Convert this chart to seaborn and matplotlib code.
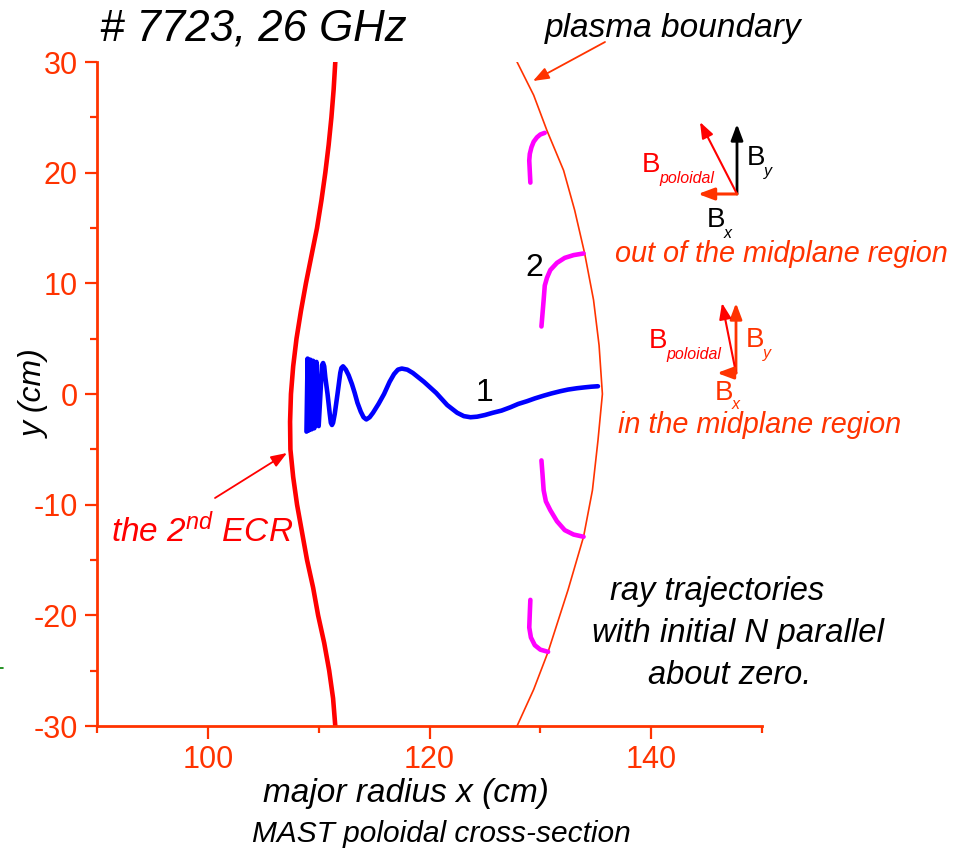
import numpy as np
import pandas as pd
import matplotlib
matplotlib.use("Agg")
import matplotlib.pyplot as plt
from matplotlib.ticker import MultipleLocator
import seaborn as sns

# ---- data ----
ecr_x = [111.5, 111.35, 111.15, 110.9, 110.6, 110.25, 109.85, 109.35, 108.85, 108.4, 108.0,
         107.7, 107.5, 107.42, 107.45, 107.7, 108.05, 108.5, 108.95, 109.5, 109.95,
         110.5, 110.95, 111.3, 111.5]
ecr_y = [30, 27.5, 25, 22.5, 20, 17.5, 15, 12.5, 10, 7.5, 5,
         2.5, 0, -2.5, -5, -7.5, -10, -12.5, -15, -17.5, -20,
         -22.5, -25, -27.5, -30]

boundary_x = [127.9, 129.4, 130.6, 132.1, 133.1, 134.0, 134.8, 135.3, 135.6,
              135.2, 134.7, 133.9, 132.5, 130.7, 129.4, 127.9]
boundary_y = [30.0, 27.0, 23.8, 20.2, 16.6, 12.7, 8.5, 4.4, 0.0,
              -4.2, -8.7, -12.9, -17.7, -23.3, -26.7, -30.0]

ray1_x = [108.9, 109.0, 109.1, 109.25, 109.35, 109.5, 109.6, 109.8, 110.0, 110.3, 110.4,
          110.5, 110.6, 110.8, 111.0, 111.1, 111.2, 111.3, 111.45, 111.7, 111.95, 112.05,
          112.2, 112.45, 112.7, 113.0, 113.25, 113.5, 113.8, 114.05, 114.3, 114.6, 114.9,
          115.4, 115.9, 116.4, 116.8, 117.15, 117.5, 118.0, 118.5, 119.5, 120.6, 121.6,
          122.5, 123.1, 123.7, 124.3, 125.0, 125.7, 126.5, 127.3, 128.0, 128.8, 129.5,
          130.3, 131.0, 131.8, 132.5, 133.3, 134.0, 134.6, 135.2]
ray1_y = [-3.4, 3.2, -3.3, 3.1, -3.2, 3.0, -3.1, 2.9, -2.9, 2.6, 2.8,
          2.5, 1.5, 0.0, -1.8, -2.6, -2.8, -2.6, -1.8, 0.0, 1.9, 2.35,
          2.5, 2.2, 1.7, 0.9, 0.1, -0.8, -1.6, -2.1, -2.3, -2.1, -1.7,
          -0.9, 0.0, 1.1, 1.8, 2.2, 2.3, 2.2, 1.9, 1.1, 0.1, -1.0,
          -1.7, -2.0, -2.1, -2.05, -1.9, -1.7, -1.5, -1.2, -0.9, -0.65, -0.4,
          -0.15, 0.05, 0.25, 0.4, 0.52, 0.6, 0.66, 0.7]

arc_a_x = [130.4, 130.0, 129.7, 129.4, 129.2, 129.05, 129.0, 129.05, 129.1]
arc_a_y = [23.6, 23.45, 23.2, 22.8, 22.3, 21.7, 21.1, 20.1, 19.1]
arc_b_x = [133.9, 133.0, 132.2, 131.5, 130.9, 130.6, 130.4, 130.3, 130.2, 130.1]
arc_b_y = [12.7, 12.55, 12.3, 11.85, 11.2, 10.5, 9.8, 8.5, 7.3, 6.1]
arc_c_x = [130.1, 130.2, 130.3, 130.5, 130.9, 131.5, 132.2, 133.0, 133.9]
arc_c_y = [-6.0, -7.3, -8.7, -9.7, -10.5, -11.5, -12.3, -12.7, -12.9]
arc_d_x = [129.1, 129.05, 129.0, 129.15, 129.5, 130.0, 130.7]
arc_d_y = [-18.6, -19.8, -21.1, -22.0, -22.7, -23.1, -23.3]

ORANGE = "#FF3300"
RED = "#FF0000"

sns.set_theme(style="white")
plt.rcParams['font.family'] = ['Liberation Sans', 'DejaVu Sans']
plt.rcParams['text.color'] = 'black'
plt.rcParams['axes.unicode_minus'] = False
plt.rcParams['mathtext.fontset'] = 'custom'
plt.rcParams['mathtext.rm'] = 'Liberation Sans'
plt.rcParams['mathtext.it'] = 'Liberation Sans:italic'

W, H = 967, 850
fig = plt.figure(figsize=(W / 100, H / 100), dpi=100)
ax = fig.add_axes([97 / W, 1 - 726 / H, (762 - 97) / W, (726 - 62) / H])


def px(x, y):
    # image pixel (from top-left) -> figure fraction
    return (x / W, 1 - y / H)


def curve(xs, ys, color, lw):
    d = pd.DataFrame({'x': xs, 'y': ys})
    sns.lineplot(data=d, x='x', y='y', sort=False, estimator=None,
                 color=color, lw=lw, ax=ax)


curve(boundary_x, boundary_y, ORANGE, 1.2)
curve(ecr_x, ecr_y, RED, 3.3)
for xs, ys in [(arc_a_x, arc_a_y), (arc_b_x, arc_b_y), (arc_c_x, arc_c_y), (arc_d_x, arc_d_y)]:
    curve(xs, ys, "#FF00FF", 3.3)
curve(ray1_x, ray1_y, "#0000FF", 3.3)

ax.set_xlim(90, 150)
ax.set_ylim(-30, 30)
ax.xaxis.set_major_locator(MultipleLocator(20))
ax.xaxis.set_minor_locator(MultipleLocator(10))
ax.yaxis.set_major_locator(MultipleLocator(10))
ax.yaxis.set_minor_locator(MultipleLocator(5))
ax.tick_params(which='major', direction='out', length=9, width=1.6,
               color=ORANGE, labelcolor=ORANGE, labelsize=22, pad=5,
               bottom=True, left=True)
ax.tick_params(which='minor', direction='out', length=5, width=1.6,
               color=ORANGE, bottom=True, left=True)
for s in ['top', 'right']:
    ax.spines[s].set_visible(False)
for s in ['left', 'bottom']:
    ax.spines[s].set_color(ORANGE)
    ax.spines[s].set_linewidth(2)
ax.set_xlabel('')
ax.set_ylabel('')
ax.grid(False)

ax.text(129.5, 11.4, '2', fontsize=23, ha='center', va='center')
ax.text(125.0, 0.1, '1', fontsize=23, ha='center', va='center')

# ---- text outside the axes ----
fig.text(*px(35, 394), 'y (cm)', fontsize=23, style='italic', rotation=90,
         ha='center', va='center')
fig.text(*px(100, 41), '# 7723, 26 GHz', fontsize=31.5, style='italic', va='baseline')
fig.text(*px(545, 37), 'plasma boundary', fontsize=24, style='italic', va='baseline')
fig.text(*px(263, 802), 'major radius x (cm)', fontsize=24, style='italic', va='baseline')
fig.text(*px(252, 842), 'MAST poloidal cross-section', fontsize=21.5, style='italic', va='baseline')
fig.text(*px(111, 542), r'the 2$^{nd}$ ECR', fontsize=24, style='italic', color=RED, va='baseline')
fig.text(*px(615, 262), 'out of the midplane region', fontsize=20.8, style='italic', color=ORANGE, va='baseline')
fig.text(*px(618, 433), 'in the midplane region', fontsize=20.8, style='italic', color=ORANGE, va='baseline')
fig.text(*px(610, 600), 'ray trajectories', fontsize=23.5, style='italic', va='baseline')
fig.text(*px(592, 642), 'with initial N parallel', fontsize=23.8, style='italic', va='baseline')
fig.text(*px(648, 684), 'about zero.', fontsize=23.5, style='italic', va='baseline')


def blabel(x, y, sub, color, subdx=17, subdy=11):
    fig.text(*px(x, y), 'B', fontsize=20, color=color, va='baseline')
    fig.text(*px(x + subdx, y + subdy), sub, fontsize=11.5, style='italic', color=color, va='baseline')


blabel(642, 172, 'poloidal', RED)
blabel(747, 165, 'y', 'black')
blabel(707, 227, 'x', 'black')
blabel(649, 348, 'poloidal', RED)
blabel(746, 347, 'y', ORANGE)
blabel(715, 400, 'x', ORANGE, subdy=9)


def arrow(x0, y0, x1, y1, color, lw, hw=0.3, hl=0.8):
    ax.annotate('', xy=px(x1, y1), xytext=px(x0, y0),
                xycoords='figure fraction', textcoords='figure fraction',
                arrowprops=dict(arrowstyle=f'-|>,head_width={hw},head_length={hl}',
                                color=color, lw=lw, shrinkA=0, shrinkB=0),
                annotation_clip=False)


arrow(605, 42, 533, 81, ORANGE, 1.3)
arrow(215, 498, 287, 453, RED, 1.3)
# upper diagram
arrow(737, 194, 737, 124, 'black', 2.0)
arrow(737, 194, 700, 122, RED, 1.5)
arrow(737, 194, 698, 194, ORANGE, 2.2)
# lower diagram
arrow(736, 373, 736, 303, ORANGE, 2.0)
arrow(736, 373, 722, 303, RED, 1.5)
arrow(736, 373, 717, 373, ORANGE, 2.2)

# small green mark at the left edge
fig.add_artist(plt.Line2D([0, 3 / W], [1 - 668 / H] * 2, color='green', lw=1.2))

fig.savefig('out.png', dpi=100)
